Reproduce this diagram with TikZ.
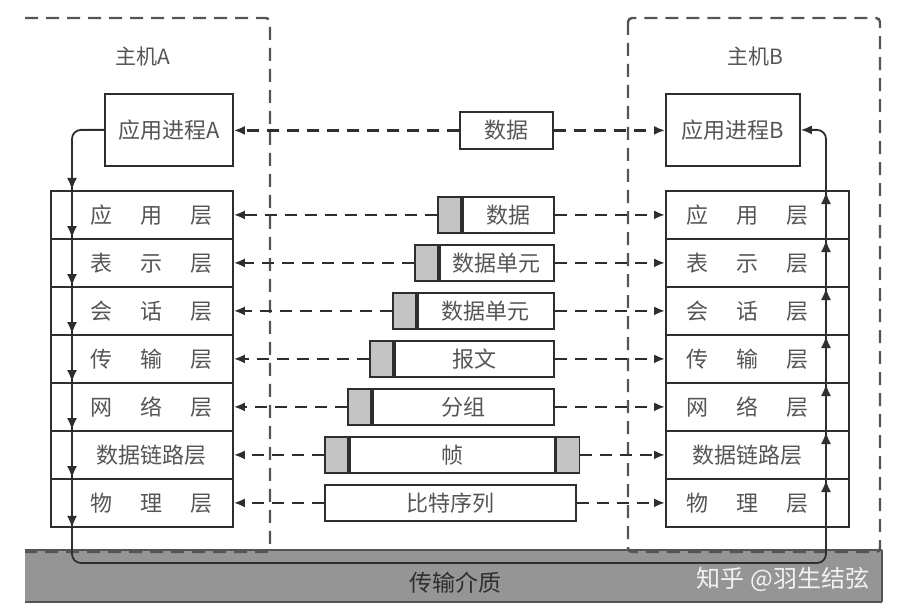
\documentclass[tikz,border=0pt]{standalone}
\usepackage{fontspec}
\newfontfamily\cjk{Noto Sans CJK SC}
\usetikzlibrary{arrows.meta,calc}
\definecolor{ln}{HTML}{2E2E2E}
\definecolor{tx}{HTML}{555555}
\definecolor{hd}{HTML}{C4C4C4}
\definecolor{med}{HTML}{959595}
\definecolor{medb}{HTML}{555555}
\newcommand\layertxt[3]{\makebox[122pt]{#1\hfill#2\hfill#3}}
\begin{document}
\begin{tikzpicture}[x=1pt,y=-1pt,
  font=\cjk\fontsize{22}{25}\selectfont,
  box/.style={draw=ln, line width=1.8pt, fill=white, inner sep=0pt, anchor=north west, text=tx},
  hdr/.style={box, fill=hd, minimum width=23pt, minimum height=36pt},
  pk/.style={box, minimum height=36pt},
  lay/.style={box, minimum height=48pt, minimum width=#1},
  hostbox/.style={draw=medb, line width=2.4pt, dash pattern=on 13pt off 8pt, rounded corners=4pt},
  darr/.style={draw=ln, line width=2.3pt, dash pattern=on 12pt off 8pt, -{Latex[length=11pt,width=9pt]}},
  flow/.style={draw=ln, line width=1.8pt},
  tipd/.style={draw=ln, line width=1.8pt, -{Latex[length=12pt,width=10pt]}},
  lbl/.style={text=tx}]
\useasboundingbox (0,0) rectangle (900,615);

% transmission medium
\fill[med] (25,550) rectangle (882,602);
\draw[medb, line width=2pt] (25,550) -- (882,550) (25,602) -- (882,602) (882,550) -- (882,602);
\node[text=ln, font=\cjk\fontsize{23}{26}\selectfont] (med) at (455,583) {传输介质};
\node[text=white!90!gray, font=\cjk\fontsize{24}{27}\selectfont] (wm) at (783,579) {知乎 @羽生结弦};

% host boxes
\draw[hostbox] (25,18) -- (270,18) -- (270,552) -- (25,552);
\draw[hostbox] (628,18) rectangle (880,552);
\node[lbl, font=\cjk\fontsize{21}{24}\selectfont] (hA) at (143,57) {主机A};
\node[lbl, font=\cjk\fontsize{21}{24}\selectfont] (hB) at (755,57) {主机B};

% application processes
\node[box, minimum width=128pt, minimum height=72pt] (AppA) at (104,93) {应用进程A};
\node[box, minimum width=134pt, minimum height=72pt] (AppB) at (665,93) {应用进程B};

% left stack
\node[lay=182pt] (L1) at (50,190) {\hspace*{20pt}\layertxt{应}{用}{层}};
\node[lay=182pt] (L2) at (50,238) {\hspace*{20pt}\layertxt{表}{示}{层}};
\node[lay=182pt] (L3) at (50,286) {\hspace*{20pt}\layertxt{会}{话}{层}};
\node[lay=182pt] (L4) at (50,334) {\hspace*{20pt}\layertxt{传}{输}{层}};
\node[lay=182pt] (L5) at (50,382) {\hspace*{20pt}\layertxt{网}{络}{层}};
\node[lay=182pt] (L6) at (50,430) {\hspace*{20pt}\makebox[122pt]{数据链路层}};
\node[lay=182pt] (L7) at (50,478) {\hspace*{20pt}\layertxt{物}{理}{层}};

% right stack
\node[lay=183pt] (R1) at (665,190) {\layertxt{应}{用}{层}\hspace*{20pt}};
\node[lay=183pt] (R2) at (665,238) {\layertxt{表}{示}{层}\hspace*{20pt}};
\node[lay=183pt] (R3) at (665,286) {\layertxt{会}{话}{层}\hspace*{20pt}};
\node[lay=183pt] (R4) at (665,334) {\layertxt{传}{输}{层}\hspace*{20pt}};
\node[lay=183pt] (R5) at (665,382) {\layertxt{网}{络}{层}\hspace*{20pt}};
\node[lay=183pt] (R6) at (665,430) {\makebox[122pt]{数据链路层}\hspace*{20pt}};
\node[lay=183pt] (R7) at (665,478) {\layertxt{物}{理}{层}\hspace*{20pt}};

% packets
\node[pk, minimum width=93pt, minimum height=37pt] (P0) at (459,111) {数据};
\node[hdr] (H1) at (437,196) {};
\node[pk, minimum width=91pt] (P1) at (H1.north east) {数据};
\node[hdr] (H2) at (414,244) {};
\node[pk, minimum width=114pt] (P2) at (H2.north east) {数据单元};
\node[hdr] (H3) at (392,292) {};
\node[pk, minimum width=136pt] (P3) at (H3.north east) {数据单元};
\node[hdr] (H4) at (369,340) {};
\node[pk, minimum width=159pt] (P4) at (H4.north east) {报文};
\node[hdr] (H5) at (347,388) {};
\node[pk, minimum width=181pt] (P5) at (H5.north east) {分组};
\node[hdr] (H6) at (324,436) {};
\node[pk, minimum width=205pt] (P6) at (H6.north east) {帧};
\node[hdr] (T6) at (P6.north east) {};
\node[pk, minimum width=251pt] (P7) at (324,484) {比特序列};

% dashed peer arrows
\draw[darr] (P0.west) -- (P0.west -| AppA.east);
\draw[darr] (P0.east) -- (P0.east -| AppB.west);
\draw[darr] (H1.west) -- (H1.west -| L1.east);
\draw[darr] (P1.east) -- (P1.east -| R1.west);
\draw[darr] (H2.west) -- (H2.west -| L2.east);
\draw[darr] (P2.east) -- (P2.east -| R2.west);
\draw[darr] (H3.west) -- (H3.west -| L3.east);
\draw[darr] (P3.east) -- (P3.east -| R3.west);
\draw[darr] (H4.west) -- (H4.west -| L4.east);
\draw[darr] (P4.east) -- (P4.east -| R4.west);
\draw[darr] (H5.west) -- (H5.west -| L5.east);
\draw[darr] (P5.east) -- (P5.east -| R5.west);
\draw[darr] (H6.west) -- (H6.west -| L6.east);
\draw[darr] (T6.east) -- (T6.east -| R6.west);
\draw[darr] (P7.west) -- (P7.west -| L7.east);
\draw[darr] (P7.east) -- (P7.east -| R7.west);

% data flow through the stacks
\coordinate (bl) at (72,563);
\coordinate (br) at (826,563);
\draw[flow, rounded corners=9pt, -{Latex[length=11pt,width=9pt]}] (AppA.west) -| (bl) -- (br) |- (AppB.east);
\foreach \n in {L1,L2,L3,L4,L5,L6,L7}{
  \draw[tipd] ($(\n.north -| bl)+(0,-14)$) -- (\n.north -| bl);
}
\draw[tipd] ($(L7.south -| bl)+(0,-14)$) -- (L7.south -| bl);
\foreach \n in {R1,R2,R3,R4,R5,R6,R7}{
  \draw[tipd] ($(\n.north -| br)+(0,16)$) -- ($(\n.north -| br)+(0,2)$);
}
\end{tikzpicture}
\end{document}
